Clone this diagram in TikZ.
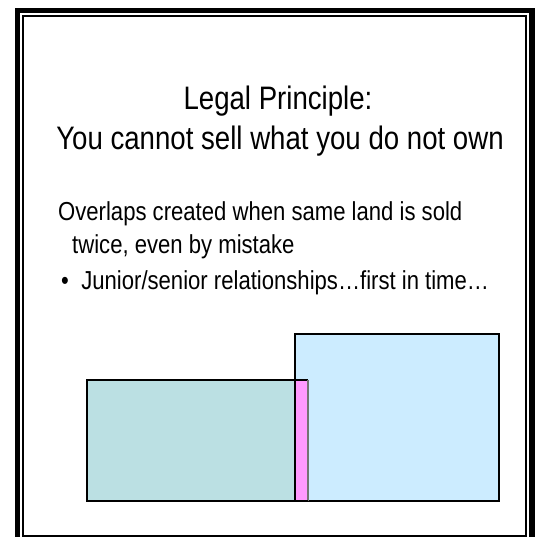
\documentclass[tikz,border=0pt]{standalone}
\usepackage{fontspec}
\setmainfont{Liberation Sans}[FakeStretch=0.85]
\usepackage{tikz}
\usetikzlibrary{positioning}
\definecolor{senior}{HTML}{CCECFF}
\definecolor{junior}{HTML}{BBE0E3}
\definecolor{overlap}{HTML}{FF99FF}

\begin{document}
\begin{tikzpicture}[x=1pt, y=-1pt,
    head/.style={font=\fontsize{32.5}{38}\selectfont, inner sep=0pt, anchor=base},
    txt/.style={font=\fontsize{26}{31}\selectfont, inner sep=0pt, anchor=base west},
    parcel/.style={draw=black, line width=1.2pt}
  ]
  \useasboundingbox (0,0) rectangle (538,537);
  % double frame, cut off at the bottom
  \begin{scope}
    \clip (0,0) rectangle (538,537);
    \draw[line width=5.5pt] (17.5,10.5) rectangle (532,560);
    \draw[line width=1.8pt] (23,16) rectangle (526,536);
  \end{scope}
  \node[head] (t1) at (278,110) {Legal Principle:};
  \node[head] (t2) at (280,150) {You cannot sell what you do not own};
  \node[txt] (l1) at (58,221) {Overlaps created when same land is sold};
  \node[txt] (l2) at (72,254) {twice, even by mistake};
  \node[txt] (bul) at (61,290) {\textbullet};
  \node[txt, right=12pt of bul.base east, anchor=base west] (l3) {Junior/senior relationships\dots first in time\dots};
  % the two parcels and their overlap
  \fill[senior] (295,334) rectangle (499,501);
  \fill[junior] (87,380) rectangle (308,501);
  \fill[overlap] (295,380) rectangle (308,501);
  \draw[parcel] (295,334) rectangle (499,501);
  \draw[parcel] (87,380) rectangle (295,501);
  \draw[parcel] (295,380) -- (308,380);
  \draw[black!55, line width=1.2pt] (308,380) -- (308,501);
  \draw[parcel] (295,501) -- (308,501);
\end{tikzpicture}
\end{document}
